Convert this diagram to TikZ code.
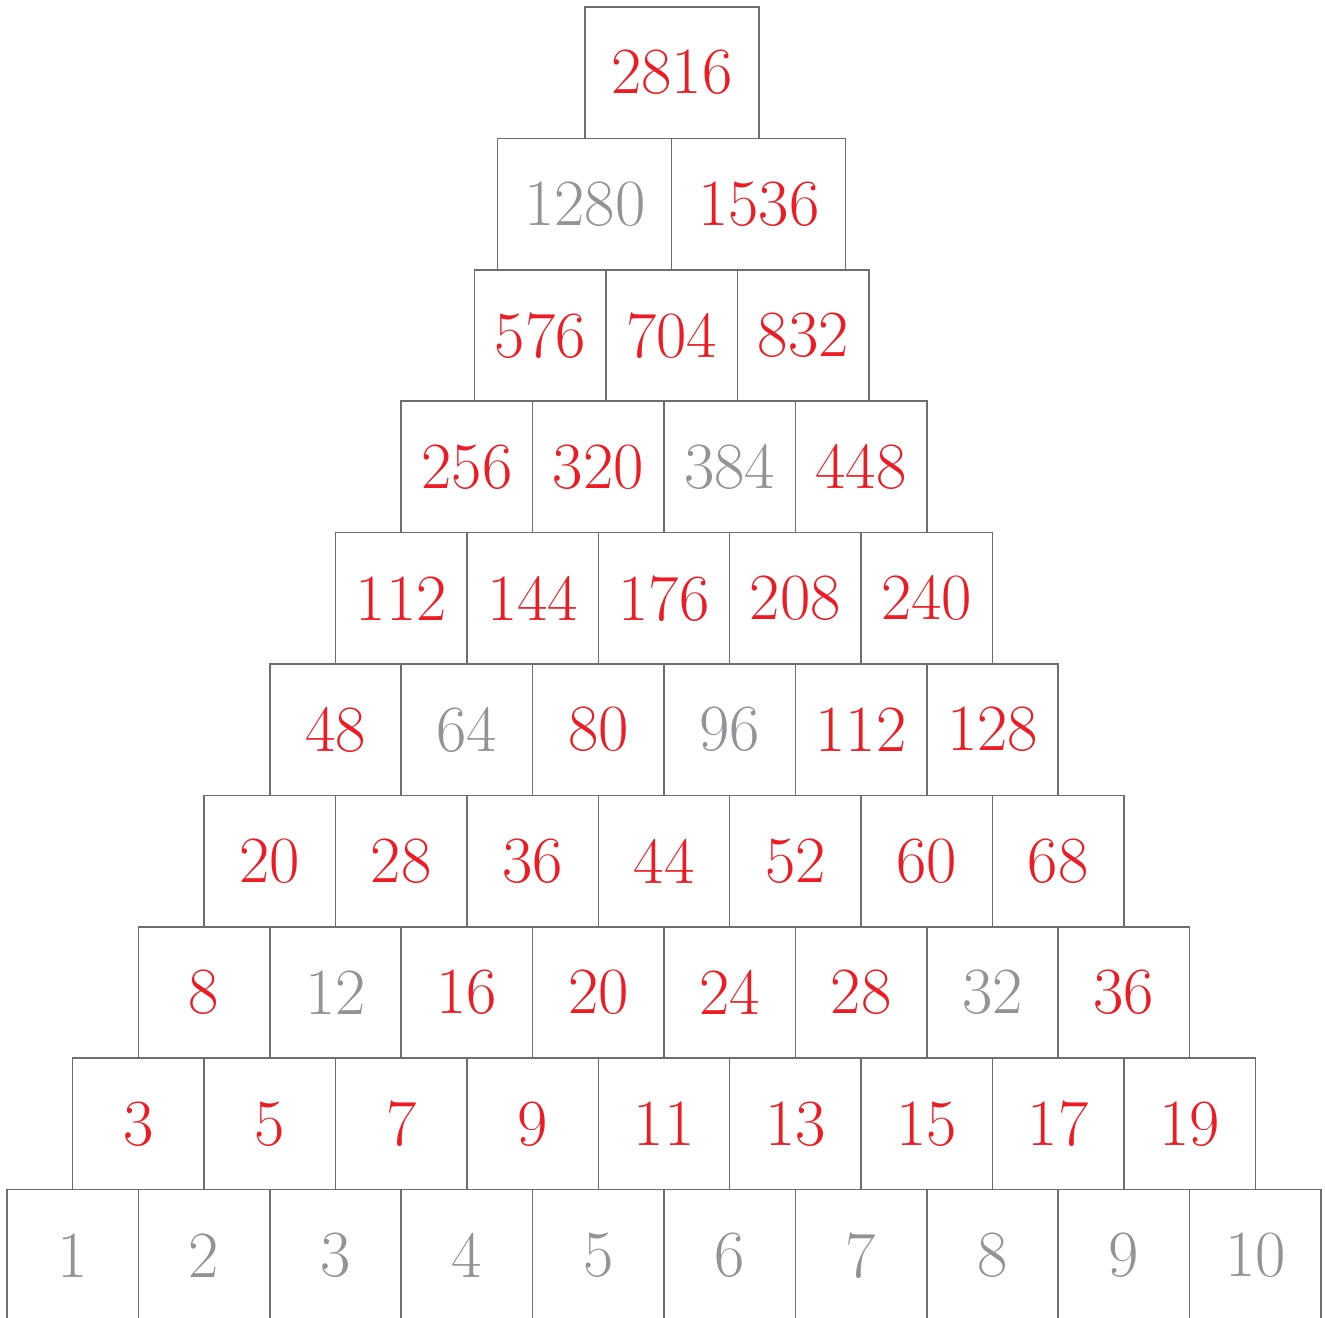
\documentclass[tikz,border=0pt]{standalone}
\usepackage{fontspec}
\definecolor{numred}{RGB}{237,28,36}
\definecolor{numgray}{RGB}{145,147,150}
\definecolor{linegray}{RGB}{110,110,112}
\begin{document}
\begin{tikzpicture}[x=0.5pt,y=-0.5pt,
  cell/.style={draw=linegray, line width=0.75pt, rectangle, inner sep=0pt,
    minimum width=65.7pt, minimum height=65.7pt, font=\fontsize{33}{33}\selectfont},
  wide/.style={minimum width=87pt},
  hot/.style={text=numred},
  cold/.style={text=numgray}]
\useasboundingbox (0,0) rectangle (1325,1317);
\clip (0,0) rectangle (1325,1317);
% row 1
\node[cell,wide,hot] (r1-1) at (671.9,72.7) {2816};
% row 2
\foreach \lab/\col [count=\i] in {1280/cold,1536/hot}
  \node[cell,wide,\col] (r2-\i) at ({497.7+(\i-0.5)*174},204.1) {\lab};
% row 3
\foreach \lab/\col [count=\i] in {576/hot,704/hot,832/hot}
  \node[cell,\col] (r3-\i) at ({474.7+(\i-0.5)*131.4},335.5) {\lab};
% row 4
\foreach \lab/\col [count=\i] in {256/hot,320/hot,384/cold,448/hot}
  \node[cell,\col] (r4-\i) at ({401.2+(\i-0.5)*131.4},466.9) {\lab};
% row 5
\foreach \lab/\col [count=\i] in {112/hot,144/hot,176/hot,208/hot,240/hot}
  \node[cell,\col] (r5-\i) at ({335.5+(\i-0.5)*131.4},598.3) {\lab};
% row 6
\foreach \lab/\col [count=\i] in {48/hot,64/cold,80/hot,96/cold,112/hot,128/hot}
  \node[cell,\col] (r6-\i) at ({269.8+(\i-0.5)*131.4},729.7) {\lab};
% row 7
\foreach \lab/\col [count=\i] in {20/hot,28/hot,36/hot,44/hot,52/hot,60/hot,68/hot}
  \node[cell,\col] (r7-\i) at ({204.1+(\i-0.5)*131.4},861.1) {\lab};
% row 8
\foreach \lab/\col [count=\i] in {8/hot,12/cold,16/hot,20/hot,24/hot,28/hot,32/cold,36/hot}
  \node[cell,\col] (r8-\i) at ({138.4+(\i-0.5)*131.4},992.5) {\lab};
% row 9
\foreach \lab/\col [count=\i] in {3/hot,5/hot,7/hot,9/hot,11/hot,13/hot,15/hot,17/hot,19/hot}
  \node[cell,\col] (r9-\i) at ({72.7+(\i-0.5)*131.4},1123.9) {\lab};
% row 10
\foreach \lab/\col [count=\i] in {1/cold,2/cold,3/cold,4/cold,5/cold,6/cold,7/cold,8/cold,9/cold,10/cold}
  \node[cell,\col] (r10-\i) at ({7+(\i-0.5)*131.4},1255.3) {\lab};
\end{tikzpicture}
\end{document}
